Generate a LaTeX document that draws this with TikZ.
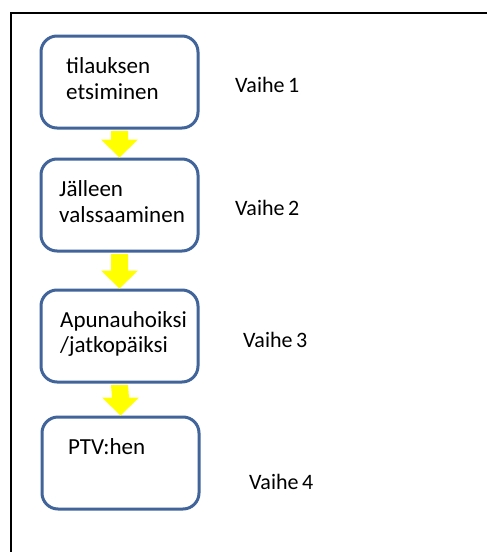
\documentclass[tikz,border=0pt]{standalone}
\usepackage{fontspec}
\setmainfont{Carlito}
\usetikzlibrary{calc}
\definecolor{boxblue}{HTML}{41659A}
\definecolor{flowyellow}{HTML}{FFFF00}
\begin{document}
\begin{tikzpicture}[x=1pt,y=-1pt,
  stage/.style={draw=boxblue, line width=3pt, rounded corners=16pt,
    minimum width=157pt, minimum height=92pt, inner sep=0pt, anchor=north west},
  txt/.style={anchor=base west, inner sep=0pt, font=\fontsize{23}{26}\selectfont},
  phase/.style={anchor=base west, inner sep=0pt, font=\fontsize{22}{25}\selectfont},
  flow/.style={fill=flowyellow}
]
\clip (0,0) rectangle (487,552);
\fill[white] (0,0) rectangle (487,552);
% outer frame (runs past the right and bottom edges)
\draw[line width=2pt] (11,13) rectangle (520,600);

% process stages
\node[stage] (b1) at (39.5,34.5) {};
\node[stage] (b2) at (39.5,157.5) {};
\node[stage] (b3) at (39.5,288.5) {};
\node[stage] (b4) at (40.5,415.5) {};

% yellow block arrows between stages
\foreach \a/\b in {b1/b2, b2/b3, b3/b4}{
  \fill[flow] ($(\a.south)+(-8.5,1.5)$) -- ($(\b.north)+(-8.5,-18)$)
    -- ($(\b.north)+(-18.5,-18)$) -- (\b.north) -- ($(\b.north)+(18.5,-18)$)
    -- ($(\b.north)+(8.5,-18)$) -- ($(\a.south)+(8.5,1.5)$) -- cycle;
}

% stage texts
\node[txt] (t1a) at (66,73) {tilauksen};
\node[txt] (t1b) at (66,99) {etsiminen};
\node[txt] (t2a) at (59,196) {Jälleen};
\node[txt] (t2b) at (59,222) {valssaaminen};
\node[txt] (t3a) at (60,327) {Apunauhoiksi};
\node[txt] (t3b) at (60,352) {/jatkopäiksi};
\node[txt] (t4) at (68,454) {PTV:hen};

% phase labels
\node[phase] (v1) at (235,92) {Vaihe\,1};
\node[phase] (v2) at (235,215) {Vaihe\,2};
\node[phase] (v3) at (243,347) {Vaihe\,3};
\node[phase] (v4) at (249,489) {Vaihe\,4};
\end{tikzpicture}
\end{document}
